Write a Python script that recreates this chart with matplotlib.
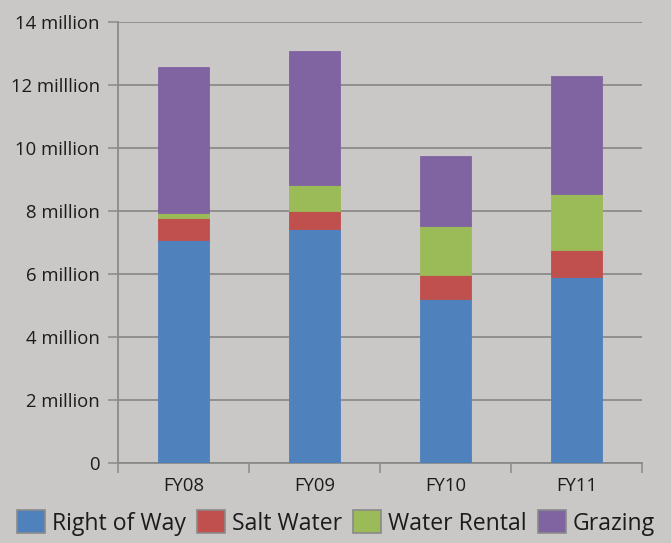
import matplotlib
matplotlib.use("Agg")
import matplotlib.pyplot as plt
import numpy as np

# Revenue by source, in millions
years = ["FY08", "FY09", "FY10", "FY11"]
right_of_way = [7.07, 7.42, 5.21, 5.90]
salt_water = [0.70, 0.58, 0.75, 0.87]
water_rental = [0.18, 0.83, 1.57, 1.77]
grazing = [4.61, 4.25, 2.23, 3.75]

series_names = ["Right of Way", "Salt Water", "Water Rental", "Grazing"]
series_colors = ["#4f81bd", "#c0504d", "#9bbb59", "#8064a2"]

y_ticks = [0, 2, 4, 6, 8, 10, 12, 14]
y_tick_labels = ["0", "2 million", "4 million", "6 million", "8 million",
                 "10 million", "12 milllion", "14 million"]

bg = "#c9c8c6"
grid_col = "#8a8a8a"
text_col = "#1e1b1c"

plt.rcParams["font.family"] = ["Open Sans", "DejaVu Sans"]

fig = plt.figure(figsize=(6.71, 5.43), dpi=100, facecolor=bg)
ax = fig.add_axes([118 / 671, 80 / 543, 524 / 671, 441 / 543], facecolor=bg)

x = np.arange(len(years))
bottom = np.zeros(len(years))
handles = []
for vals, name, col in zip([right_of_way, salt_water, water_rental, grazing],
                           series_names, series_colors):
    b = ax.bar(x, vals, width=0.39, bottom=bottom, color=col, label=name,
               edgecolor=col, linewidth=0.6, zorder=3)
    handles.append(b)
    bottom += np.array(vals)

ax.set_xlim(-0.5, 3.5)
ax.set_ylim(0, 14)

ax.set_yticks(y_ticks)
ax.set_yticklabels(y_tick_labels, fontsize=13.3, color=text_col)
ax.tick_params(axis="y", length=7, width=1.1, color=grid_col, pad=6)
ax.yaxis.grid(True, color=grid_col, linewidth=1.3, zorder=1)

ax.set_xticks(x)
ax.set_xticklabels(years, fontsize=13.3, color=text_col)
ax.set_xticks(np.arange(-0.5, 4.0, 1.0), minor=True)
ax.tick_params(axis="x", which="major", length=0, pad=10)
ax.tick_params(axis="x", which="minor", length=7, width=1.1, color=grid_col)

for side in ["top", "right"]:
    ax.spines[side].set_visible(False)
for side in ["left", "bottom"]:
    ax.spines[side].set_color(grid_col)
    ax.spines[side].set_linewidth(1.3)

leg = fig.legend(handles=handles, labels=series_names, loc="lower left",
                 bbox_to_anchor=(0.005, -0.012), ncol=4, frameon=False,
                 fontsize=16.6, handlelength=1.2, handleheight=1.15,
                 handletextpad=0.3, columnspacing=0.5, borderaxespad=0.2,
                 labelcolor=text_col)
for p in leg.get_patches():
    p.set_edgecolor("#8a8a8a")
    p.set_linewidth(1.2)

fig.savefig("out.png", dpi=100, facecolor=bg)
